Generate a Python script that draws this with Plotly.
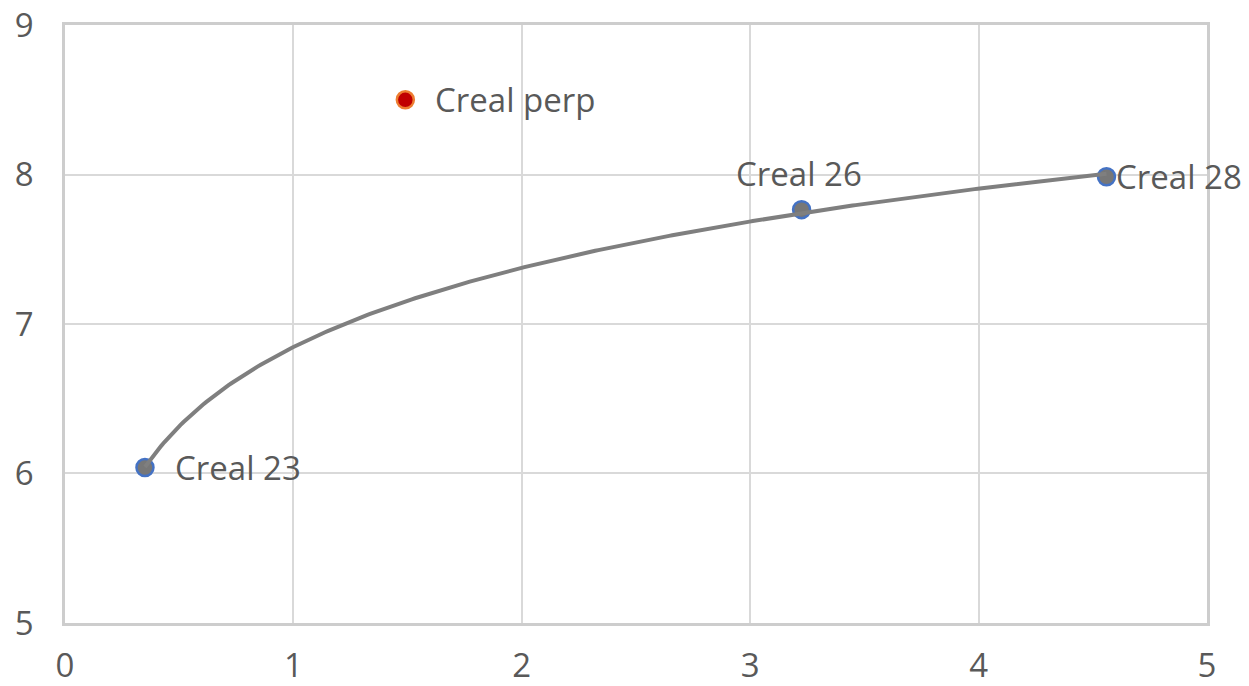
import numpy as np
import plotly.graph_objects as go

# Data
labels = ["Creal 23", "Creal 26", "Creal 28"]
x_vals = [0.35, 3.225, 4.56]
y_vals = [6.04, 7.765, 7.985]

perp_label = ["Creal perp"]
perp_x = [1.49]
perp_y = [8.5]

x_ticks = [0, 1, 2, 3, 4, 5]
y_ticks = [5, 6, 7, 8, 9]

# Logarithmic trendline fitted to the three Creal points
b, a = np.polyfit(np.log(x_vals), y_vals, 1)
xs = np.linspace(min(x_vals), max(x_vals), 300)
ys = a + b * np.log(xs)

FONT = "Open Sans"
TXT = "#595959"
FS = 33
EPS = 1e-4

fig = go.Figure()
fig.add_trace(go.Scatter(
    x=x_vals, y=y_vals, mode="markers",
    marker=dict(size=17, color="#777777", line=dict(color="#4472C4", width=2.5)),
    cliponaxis=False, showlegend=False, hoverinfo="skip"))
fig.add_trace(go.Scatter(
    x=xs, y=ys, mode="lines",
    line=dict(color="#7F7F7F", width=4),
    showlegend=False, hoverinfo="skip"))
fig.add_trace(go.Scatter(
    x=perp_x, y=perp_y, mode="markers",
    marker=dict(size=17, color="#C00000", line=dict(color="#ED7D31", width=2.5)),
    cliponaxis=False, showlegend=False, hoverinfo="skip"))

ann_cfg = {
    "Creal 23": dict(xanchor="left", yanchor="middle", xshift=28, yshift=0),
    "Creal 26": dict(xanchor="center", yanchor="bottom", xshift=-3, yshift=12),
    "Creal 28": dict(xanchor="left", yanchor="middle", xshift=8, yshift=0),
}
for lab, xv, yv in zip(labels, x_vals, y_vals):
    fig.add_annotation(x=xv, y=yv, text=lab, showarrow=False,
                       font=dict(family=FONT, size=FS, color=TXT), **ann_cfg[lab])
for lab, xv, yv in zip(perp_label, perp_x, perp_y):
    fig.add_annotation(x=xv, y=yv, text=lab, showarrow=False, xanchor="left",
                       yanchor="middle", xshift=28,
                       font=dict(family=FONT, size=FS, color=TXT))

fig.update_layout(
    width=1249, height=686,
    margin=dict(l=57, r=50, t=17, b=71),
    paper_bgcolor="white", plot_bgcolor="white",
    font=dict(family=FONT, size=FS, color=TXT),
    xaxis=dict(range=[0 - EPS, 5 + EPS], tickvals=x_ticks, showgrid=True,
               gridcolor="#D9D9D9", gridwidth=2, zeroline=False, showline=True,
               mirror=True, linecolor="#CDCDCD", linewidth=2.5, ticks="",
               ticklabelstandoff=12, automargin=False, ticklabeloverflow="allow",
               tickfont=dict(family=FONT, size=FS, color=TXT)),
    yaxis=dict(range=[5 - EPS, 9 + EPS], tickvals=y_ticks, showgrid=True,
               gridcolor="#D9D9D9", gridwidth=2, zeroline=False, showline=True,
               mirror=True, linecolor="#CDCDCD", linewidth=2.5, ticks="",
               ticklabelstandoff=22, automargin=False, ticklabeloverflow="allow",
               tickfont=dict(family=FONT, size=FS, color=TXT)),
)

fig.write_html("out.html")
